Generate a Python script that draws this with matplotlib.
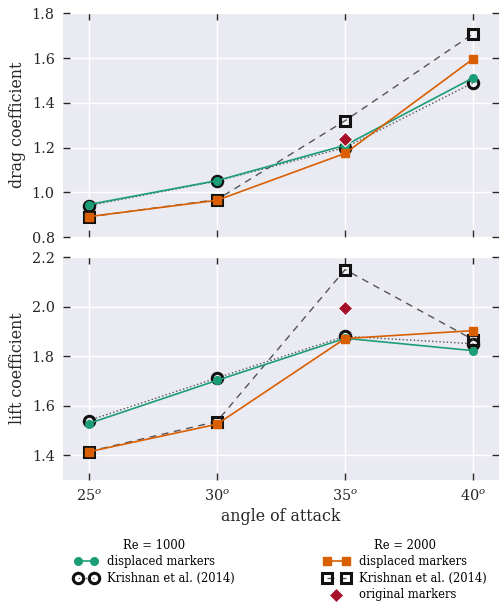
import matplotlib
matplotlib.use("Agg")
import matplotlib.pyplot as plt

plt.rcParams["font.family"] = "DejaVu Serif"
plt.rcParams["mathtext.fontset"] = "dejavuserif"

angles = [25, 30, 35, 40]
angle_labels = [r"$25^o$", r"$30^o$", r"$35^o$", r"$40^o$"]

# drag coefficient
cd_re1000 = [0.945, 1.052, 1.21, 1.512]
cd_re1000_krishnan = [0.94, 1.05, 1.20, 1.49]
cd_re2000 = [0.891, 0.964, 1.174, 1.597]
cd_re2000_krishnan = [0.89, 0.967, 1.32, 1.709]
cd_re2000_original_angle = [35]
cd_re2000_original = [1.236]

# lift coefficient
cl_re1000 = [1.528, 1.702, 1.872, 1.822]
cl_re1000_krishnan = [1.54, 1.712, 1.88, 1.85]
cl_re2000 = [1.414, 1.525, 1.871, 1.903]
cl_re2000_krishnan = [1.415, 1.536, 2.149, 1.866]
cl_re2000_original_angle = [35]
cl_re2000_original = [1.995]

GREEN = "#1b9e77"
ORANGE = "#d95f02"
RED = "#a50f2a"
BG = "#EAEAF2"
TXT = "#262626"


def style(ax):
    ax.set_facecolor(BG)
    for s in ax.spines.values():
        s.set_visible(False)
    ax.grid(True, color="white", linewidth=1.0)
    ax.set_axisbelow(True)
    ax.tick_params(direction="in", length=5, width=1, color=TXT, pad=6,
                   top=True, right=True, labelsize=10.4, labelcolor=TXT)
    ax.set_xlim(24, 41)
    ax.set_xticks(angles)


def draw(ax, re1000, k1000, re2000, k2000, orig_x, orig_y):
    h_k1 = ax.plot(angles, k1000, ls=":", color="#555555", lw=1.0, marker="o",
                   ms=7.5, mfc="none", mec="#111111", mew=2.2)[0]
    h_k2 = ax.plot(angles, k2000, ls="--", dashes=(5, 4), color="#555555", lw=1.0,
                   marker="s", ms=7.5, mfc="none", mec="#111111", mew=2.2)[0]
    h_1 = ax.plot(angles, re1000, ls="-", color=GREEN, lw=1.2, marker="o",
                  ms=5.5, mec=GREEN)[0]
    h_2 = ax.plot(angles, re2000, ls="-", color=ORANGE, lw=1.2, marker="s",
                  ms=5.5, mec=ORANGE)[0]
    h_o = ax.scatter(orig_x, orig_y, marker="D", s=55, color=RED,
                     edgecolor="white", linewidth=0.8, zorder=5)
    return h_1, h_k1, h_2, h_k2, h_o


fig = plt.figure(figsize=(4.99, 6.04), dpi=100)
ax1 = fig.add_axes([0.1263, 0.6076, 0.8737, 0.3704])
ax2 = fig.add_axes([0.1263, 0.2053, 0.8737, 0.3692])
style(ax1)
style(ax2)

draw(ax1, cd_re1000, cd_re1000_krishnan, cd_re2000, cd_re2000_krishnan,
     cd_re2000_original_angle, cd_re2000_original)
h_1, h_k1, h_2, h_k2, h_o = draw(ax2, cl_re1000, cl_re1000_krishnan, cl_re2000,
                                 cl_re2000_krishnan, cl_re2000_original_angle,
                                 cl_re2000_original)

ax1.set_ylim(0.8, 1.8)
ax1.set_yticks([0.8, 1.0, 1.2, 1.4, 1.6, 1.8])
ax1.set_xticklabels([])
ax1.set_ylabel("drag coefficient", fontsize=11.4, color=TXT)

ax2.set_ylim(1.3, 2.2)
ax2.set_yticks([1.4, 1.6, 1.8, 2.0, 2.2])
ax2.set_xticklabels(angle_labels)
ax2.set_ylabel("lift coefficient", fontsize=11.4, color=TXT)
ax2.set_xlabel("angle of attack", fontsize=11.4, color=TXT, labelpad=3)
for ax in (ax1, ax2):
    ax.yaxis.set_label_coords(-0.085, 0.5)

leg_kw = dict(frameon=False, fontsize=8.3, title_fontsize=8.3, numpoints=2,
              scatterpoints=1, handletextpad=0.8, labelspacing=0.3,
              borderpad=0, borderaxespad=0, loc="upper left")
fig.legend([h_1, h_k1], ["displaced markers", "Krishnan et al. (2014)"],
           title="Re = 1000", handlelength=2.0,
           bbox_to_anchor=(0.149, 0.108), **leg_kw)
fig.legend([h_2, h_k2, h_o],
           ["displaced markers", "Krishnan et al. (2014)", "original markers"],
           title="Re = 2000", handlelength=2.25,
           bbox_to_anchor=(0.648, 0.108), **leg_kw)

fig.savefig("out.png", dpi=100)
